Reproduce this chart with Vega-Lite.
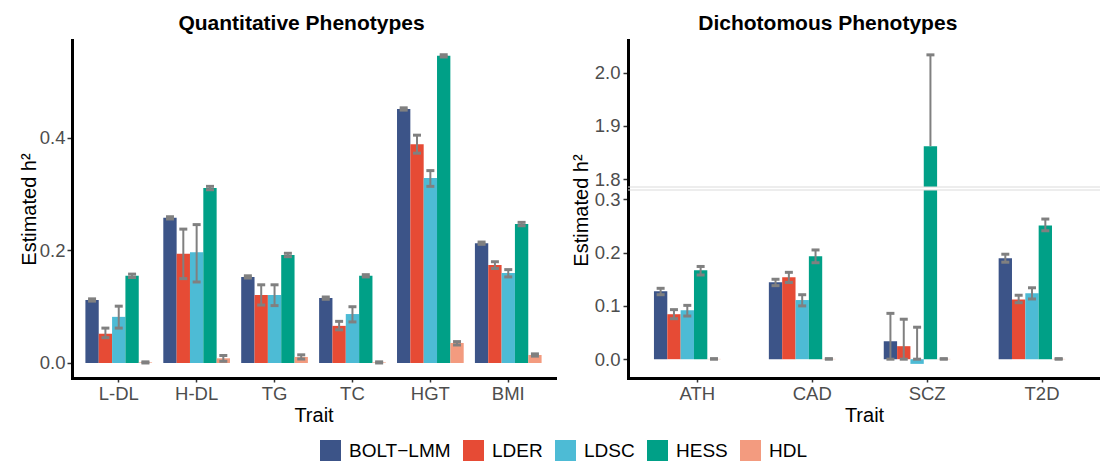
{
  "$schema": "https://vega.github.io/schema/vega-lite/v6.json",
  "autosize": {"type": "pad"},
  "padding": {"left": 19, "top": 13, "right": 0, "bottom": 0},
  "background": "white",
  "datasets": {
    "quant": [
      {"trait": "L-DL", "method": "BOLT−LMM", "value": 0.112, "lo": 0.110, "hi": 0.114},
      {"trait": "L-DL", "method": "LDER", "value": 0.052, "lo": 0.045, "hi": 0.062},
      {"trait": "L-DL", "method": "LDSC", "value": 0.082, "lo": 0.062, "hi": 0.101},
      {"trait": "L-DL", "method": "HESS", "value": 0.155, "lo": 0.152, "hi": 0.158},
      {"trait": "L-DL", "method": "HDL", "value": 0.001, "lo": 0.0, "hi": 0.002},
      {"trait": "H-DL", "method": "BOLT−LMM", "value": 0.258, "lo": 0.256, "hi": 0.260},
      {"trait": "H-DL", "method": "LDER", "value": 0.194, "lo": 0.150, "hi": 0.238},
      {"trait": "H-DL", "method": "LDSC", "value": 0.197, "lo": 0.144, "hi": 0.246},
      {"trait": "H-DL", "method": "HESS", "value": 0.311, "lo": 0.308, "hi": 0.314},
      {"trait": "H-DL", "method": "HDL", "value": 0.0083, "lo": 0.003, "hi": 0.0133},
      {"trait": "TG", "method": "BOLT−LMM", "value": 0.153, "lo": 0.151, "hi": 0.155},
      {"trait": "TG", "method": "LDER", "value": 0.121, "lo": 0.103, "hi": 0.139},
      {"trait": "TG", "method": "LDSC", "value": 0.121, "lo": 0.102, "hi": 0.139},
      {"trait": "TG", "method": "HESS", "value": 0.192, "lo": 0.189, "hi": 0.195},
      {"trait": "TG", "method": "HDL", "value": 0.0107, "lo": 0.007, "hi": 0.0145},
      {"trait": "TC", "method": "BOLT−LMM", "value": 0.1155, "lo": 0.1135, "hi": 0.1175},
      {"trait": "TC", "method": "LDER", "value": 0.066, "lo": 0.059, "hi": 0.074},
      {"trait": "TC", "method": "LDSC", "value": 0.087, "lo": 0.073, "hi": 0.100},
      {"trait": "TC", "method": "HESS", "value": 0.155, "lo": 0.153, "hi": 0.157},
      {"trait": "TC", "method": "HDL", "value": 0.001, "lo": 0.0, "hi": 0.002},
      {"trait": "HGT", "method": "BOLT−LMM", "value": 0.4516, "lo": 0.4496, "hi": 0.4536},
      {"trait": "HGT", "method": "LDER", "value": 0.389, "lo": 0.373, "hi": 0.405},
      {"trait": "HGT", "method": "LDSC", "value": 0.329, "lo": 0.314, "hi": 0.342},
      {"trait": "HGT", "method": "HESS", "value": 0.546, "lo": 0.544, "hi": 0.548},
      {"trait": "HGT", "method": "HDL", "value": 0.0356, "lo": 0.032, "hi": 0.038},
      {"trait": "BMI", "method": "BOLT−LMM", "value": 0.213, "lo": 0.211, "hi": 0.215},
      {"trait": "BMI", "method": "LDER", "value": 0.174, "lo": 0.168, "hi": 0.180},
      {"trait": "BMI", "method": "LDSC", "value": 0.160, "lo": 0.153, "hi": 0.166},
      {"trait": "BMI", "method": "HESS", "value": 0.247, "lo": 0.244, "hi": 0.250},
      {"trait": "BMI", "method": "HDL", "value": 0.0142, "lo": 0.0122, "hi": 0.0162}
    ],
    "dich": [
      {"trait": "ATH", "method": "BOLT−LMM", "value": 0.1276, "lo": 0.121, "hi": 0.133},
      {"trait": "ATH", "method": "LDER", "value": 0.0844, "lo": 0.076, "hi": 0.093},
      {"trait": "ATH", "method": "LDSC", "value": 0.092, "lo": 0.081, "hi": 0.101},
      {"trait": "ATH", "method": "HESS", "value": 0.167, "lo": 0.158, "hi": 0.174},
      {"trait": "ATH", "method": "HDL", "value": 0.0005, "lo": 0.0, "hi": 0.001},
      {"trait": "CAD", "method": "BOLT−LMM", "value": 0.1445, "lo": 0.138, "hi": 0.150},
      {"trait": "CAD", "method": "LDER", "value": 0.154, "lo": 0.144, "hi": 0.163},
      {"trait": "CAD", "method": "LDSC", "value": 0.111, "lo": 0.100, "hi": 0.121},
      {"trait": "CAD", "method": "HESS", "value": 0.193, "lo": 0.181, "hi": 0.205},
      {"trait": "CAD", "method": "HDL", "value": 0.0005, "lo": 0.0, "hi": 0.001},
      {"trait": "SCZ", "method": "BOLT−LMM", "value": 0.0338, "lo": 0.0, "hi": 0.086},
      {"trait": "SCZ", "method": "LDER", "value": 0.0244, "lo": 0.0, "hi": 0.075},
      {"trait": "SCZ", "method": "LDSC", "value": -0.0088, "lo": 0.0, "hi": 0.060},
      {"trait": "SCZ", "method": "HESS", "value": 1.862, "lo": 1.862, "hi": 2.034},
      {"trait": "SCZ", "method": "HDL", "value": 0.0005, "lo": 0.0, "hi": 0.001},
      {"trait": "T2D", "method": "BOLT−LMM", "value": 0.1895, "lo": 0.182, "hi": 0.197},
      {"trait": "T2D", "method": "LDER", "value": 0.112, "lo": 0.106, "hi": 0.120},
      {"trait": "T2D", "method": "LDSC", "value": 0.1238, "lo": 0.113, "hi": 0.134},
      {"trait": "T2D", "method": "HESS", "value": 0.251, "lo": 0.241, "hi": 0.263},
      {"trait": "T2D", "method": "HDL", "value": 0.0005, "lo": 0.0, "hi": 0.001}
    ]
  },
  "config": {
    "font": "Liberation Sans",
    "view": {"stroke": null},
    "axis": {
      "grid": false,
      "domainColor": "black",
      "domainWidth": 3,
      "domainCap": "square",
      "tickColor": "#333333",
      "tickWidth": 1.5,
      "labelColor": "#4D4D4D",
      "labelFont": "Liberation Sans",
      "labelFontSize": 18.5,
      "titleFont": "Liberation Sans",
      "titleFontSize": 20,
      "titleFontWeight": "normal",
      "titleColor": "black"
    },
    "title": {"font": "Liberation Sans", "fontSize": 21, "fontWeight": "bold", "color": "black", "anchor": "middle", "offset": 6},
    "legend": {
      "symbolType": "square",
      "symbolSize": 441,
      "symbolStrokeWidth": 0,
      "symbolOpacity": 1,
      "labelFont": "Liberation Sans",
      "labelFontSize": 19,
      "labelColor": "black",
      "labelOffset": 8,
      "columnPadding": 12
    }
  },
  "resolve": {"scale": {"color": "shared"}},
  "bounds": "flush",
  "spacing": 73,
  "hconcat": [
    {
      "title": {"text": "Quantitative Phenotypes", "dx": -12},
      "width": 483,
      "height": 338,
      "data": {"name": "quant"},
      "encoding": {
        "x": {
          "field": "trait", "type": "nominal",
          "scale": {"type": "band", "domain": ["L-DL", "H-DL", "TG", "TC", "HGT", "BMI"], "paddingInner": 0.144, "paddingOuter": 0.172},
          "axis": {"title": "Trait", "labelAngle": 0, "tickSize": 4, "labelPadding": 2, "titlePadding": 3}
        },
        "xOffset": {
          "field": "method", "type": "nominal",
          "scale": {"domain": ["BOLT−LMM", "LDER", "LDSC", "HESS", "HDL"], "paddingInner": 0, "paddingOuter": 0}
        }
      },
      "layer": [
        {
          "mark": {"type": "bar", "clip": true},
          "encoding": {
            "y": {
              "field": "value", "type": "quantitative",
              "scale": {"domain": [-0.0267, 0.5742], "nice": false, "zero": false},
              "axis": {"title": "Estimated h²", "values": [0, 0.2, 0.4], "format": ".1f", "tickSize": 5, "labelPadding": 2, "minExtent": 33, "maxExtent": 33, "titlePadding": 0}
            },
            "color": {
              "field": "method", "type": "nominal",
              "scale": {"domain": ["BOLT−LMM", "LDER", "LDSC", "HESS", "HDL"], "range": ["#3C5488", "#E64B35", "#4DBBD5", "#00A087", "#F39B7F"]},
              "legend": {"title": null, "orient": "none", "direction": "horizontal", "legendX": 248, "legendY": 400}
            }
          }
        },
        {
          "mark": {"type": "rule", "color": "#808080", "strokeWidth": 2, "clip": true},
          "encoding": {
            "y": {"field": "lo", "type": "quantitative"},
            "y2": {"field": "hi"}
          }
        },
        {
          "mark": {"type": "tick", "orient": "horizontal", "color": "#808080", "size": 8, "thickness": 3, "opacity": 1, "clip": true},
          "encoding": {"y": {"field": "hi", "type": "quantitative"}}
        },
        {
          "transform": [{"filter": "datum.lo != datum.value"}],
          "mark": {"type": "tick", "orient": "horizontal", "color": "#808080", "size": 8, "thickness": 3, "opacity": 1, "clip": true},
          "encoding": {"y": {"field": "lo", "type": "quantitative"}}
        }
      ]
    },
    {
      "title": {"text": "Dichotomous Phenotypes", "dx": -8},
      "data": {"name": "dich"},
      "bounds": "flush",
      "spacing": 3,
      "vconcat": [
        {
          "width": 472,
          "height": 147,
          "encoding": {
            "x": {
              "field": "trait", "type": "nominal",
              "scale": {"type": "band", "domain": ["ATH", "CAD", "SCZ", "T2D"], "paddingInner": 0.245, "paddingOuter": 0.1765, "align": 0.64},
              "axis": null
            },
            "xOffset": {
              "field": "method", "type": "nominal",
              "scale": {"domain": ["BOLT−LMM", "LDER", "LDSC", "HESS", "HDL"], "paddingInner": 0, "paddingOuter": 0}
            }
          },
          "layer": [
            {
              "mark": {"type": "bar", "clip": true},
              "encoding": {
                "y": {
                  "field": "value", "type": "quantitative",
                  "scale": {"domain": [1.785, 2.062], "nice": false, "zero": false},
                  "axis": {"title": null, "values": [1.8, 1.9, 2.0], "format": ".1f", "tickSize": 5, "labelPadding": 3, "minExtent": 34, "maxExtent": 34}
                },
                "color": {
                  "field": "method", "type": "nominal",
                  "scale": {"domain": ["BOLT−LMM", "LDER", "LDSC", "HESS", "HDL"], "range": ["#3C5488", "#E64B35", "#4DBBD5", "#00A087", "#F39B7F"]},
                  "legend": {"title": null, "orient": "none", "direction": "horizontal", "legendX": 248, "legendY": 400}
                }
              }
            },
            {
              "mark": {"type": "rule", "color": "#808080", "strokeWidth": 2, "clip": true},
              "encoding": {
                "y": {"field": "lo", "type": "quantitative"},
                "y2": {"field": "hi"}
              }
            },
            {
              "mark": {"type": "tick", "orient": "horizontal", "color": "#808080", "size": 8, "thickness": 3, "opacity": 1, "clip": true},
              "encoding": {"y": {"field": "hi", "type": "quantitative"}}
            },
            {
              "transform": [{"filter": "datum.lo != datum.value"}],
              "mark": {"type": "tick", "orient": "horizontal", "color": "#808080", "size": 8, "thickness": 3, "opacity": 1, "clip": true},
              "encoding": {"y": {"field": "lo", "type": "quantitative"}}
            },
            {
              "data": {"values": [{"edge": 1.785}]},
              "mark": {"type": "rule", "color": "#DCDCDC", "strokeWidth": 1.2},
              "encoding": {"y": {"field": "edge", "type": "quantitative"}, "xOffset": null, "x": null}
            }
          ]
        },
        {
          "width": 472,
          "height": 188,
          "encoding": {
            "x": {
              "field": "trait", "type": "nominal",
              "scale": {"type": "band", "domain": ["ATH", "CAD", "SCZ", "T2D"], "paddingInner": 0.245, "paddingOuter": 0.1765, "align": 0.64},
              "axis": {"title": "Trait", "labelAngle": 0, "tickSize": 4, "labelPadding": 2, "titlePadding": 3}
            },
            "xOffset": {
              "field": "method", "type": "nominal",
              "scale": {"domain": ["BOLT−LMM", "LDER", "LDSC", "HESS", "HDL"], "paddingInner": 0, "paddingOuter": 0}
            }
          },
          "layer": [
            {
              "mark": {"type": "bar", "clip": true},
              "encoding": {
                "y": {
                  "field": "value", "type": "quantitative",
                  "scale": {"domain": [-0.0353, 0.3175], "nice": false, "zero": false},
                  "axis": {"title": "Estimated h²", "values": [0, 0.1, 0.2, 0.3], "format": ".1f", "tickSize": 5, "labelPadding": 3, "minExtent": 34, "maxExtent": 34, "titlePadding": 3, "titleY": 20}
                },
                "color": {
                  "field": "method", "type": "nominal",
                  "scale": {"domain": ["BOLT−LMM", "LDER", "LDSC", "HESS", "HDL"], "range": ["#3C5488", "#E64B35", "#4DBBD5", "#00A087", "#F39B7F"]},
                  "legend": {"title": null, "orient": "none", "direction": "horizontal", "legendX": 248, "legendY": 400}
                }
              }
            },
            {
              "mark": {"type": "rule", "color": "#808080", "strokeWidth": 2, "clip": true},
              "encoding": {
                "y": {"field": "lo", "type": "quantitative"},
                "y2": {"field": "hi"}
              }
            },
            {
              "mark": {"type": "tick", "orient": "horizontal", "color": "#808080", "size": 8, "thickness": 3, "opacity": 1, "clip": true},
              "encoding": {"y": {"field": "hi", "type": "quantitative"}}
            },
            {
              "transform": [{"filter": "datum.lo != datum.value"}],
              "mark": {"type": "tick", "orient": "horizontal", "color": "#808080", "size": 8, "thickness": 3, "opacity": 1, "clip": true},
              "encoding": {"y": {"field": "lo", "type": "quantitative"}}
            },
            {
              "data": {"values": [{"edge": 0.3175}]},
              "mark": {"type": "rule", "color": "#DCDCDC", "strokeWidth": 1.2},
              "encoding": {"y": {"field": "edge", "type": "quantitative"}, "xOffset": null, "x": null}
            }
          ]
        }
      ]
    }
  ]
}
